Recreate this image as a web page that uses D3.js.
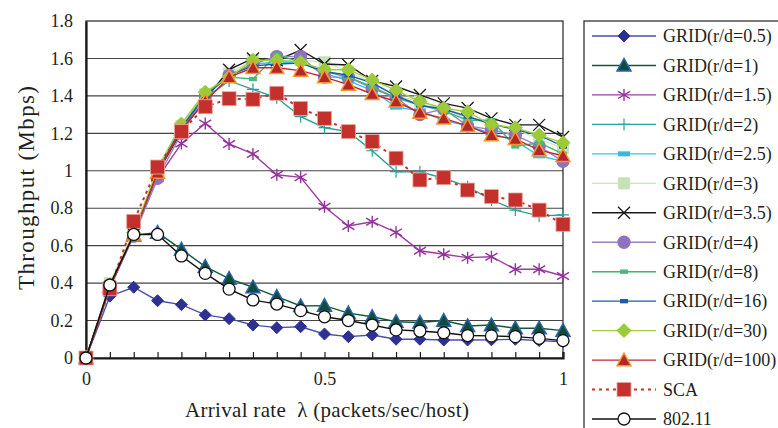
<!DOCTYPE html>
<html>
<head>
<meta charset="utf-8">
<script src="https://cdn.jsdelivr.net/npm/d3@7"></script>
<style>
  body { margin: 0; background: #fff; }
  text { font-family: "Liberation Serif", "Times New Roman", serif; fill: #231f20; }
</style>
</head>
<body>
<svg id="chart" width="778" height="428"></svg>
<script>
// x values (arrival rate)
const rates = d3.range(21).map(i => +(i * 0.05).toFixed(2))
const yTicks = [0, 0.2, 0.4, 0.6, 0.8, 1, 1.2, 1.4, 1.6, 1.8]
const xTickLabels = [0, 0.5, 1]

const grid05 = [0, 0.33, 0.378, 0.306, 0.285, 0.23, 0.21, 0.176, 0.162, 0.167, 0.128, 0.114, 0.123, 0.1, 0.1, 0.096, 0.096, 0.097, 0.1, 0.093, 0.087]
const grid1 = [0, 0.38, 0.655, 0.67, 0.58, 0.488, 0.424, 0.378, 0.328, 0.278, 0.28, 0.24, 0.22, 0.194, 0.19, 0.2, 0.171, 0.176, 0.159, 0.159, 0.146]
const grid15 = [0, 0.37, 0.66, 0.96, 1.146, 1.253, 1.143, 1.09, 0.979, 0.965, 0.808, 0.705, 0.728, 0.671, 0.573, 0.554, 0.536, 0.541, 0.474, 0.474, 0.438]
const grid2 = [0, 0.38, 0.66, 0.99, 1.22, 1.39, 1.48, 1.435, 1.39, 1.289, 1.23, 1.209, 1.107, 0.995, 0.995, 0.96, 0.915, 0.844, 0.79, 0.759, 0.764]
const grid25 = [0, 0.39, 0.67, 1.0, 1.23, 1.40, 1.51, 1.57, 1.58, 1.58, 1.52, 1.48, 1.43, 1.34, 1.32, 1.27, 1.24, 1.20, 1.16, 1.08, 1.05]
const grid3 = [0, 0.40, 0.68, 1.0, 1.24, 1.41, 1.52, 1.59, 1.59, 1.59, 1.58, 1.53, 1.47, 1.40, 1.37, 1.33, 1.28, 1.25, 1.22, 1.17, 1.12]
const grid35 = [0, 0.38, 0.66, 0.99, 1.21, 1.38, 1.54, 1.60, 1.59, 1.645, 1.57, 1.565, 1.48, 1.45, 1.405, 1.36, 1.335, 1.28, 1.245, 1.245, 1.18]
const grid4 = [0, 0.38, 0.65, 0.96, 1.20, 1.40, 1.51, 1.57, 1.61, 1.61, 1.50, 1.50, 1.44, 1.39, 1.30, 1.33, 1.24, 1.22, 1.19, 1.13, 1.05]
const grid8 = [0, 0.38, 0.66, 0.99, 1.23, 1.41, 1.50, 1.49, 1.62, 1.58, 1.53, 1.50, 1.45, 1.39, 1.35, 1.32, 1.27, 1.27, 1.13, 1.15, 1.09]
const grid16 = [0, 0.38, 0.66, 1.0, 1.23, 1.40, 1.51, 1.56, 1.57, 1.575, 1.53, 1.51, 1.47, 1.40, 1.35, 1.33, 1.29, 1.25, 1.22, 1.19, 1.13]
const grid30 = [0, 0.39, 0.67, 1.01, 1.25, 1.42, 1.50, 1.59, 1.59, 1.58, 1.54, 1.54, 1.485, 1.43, 1.37, 1.335, 1.315, 1.245, 1.23, 1.19, 1.15]
const grid100 = [0, 0.38, 0.66, 0.99, 1.22, 1.37, 1.50, 1.55, 1.55, 1.535, 1.50, 1.46, 1.41, 1.37, 1.31, 1.28, 1.24, 1.19, 1.17, 1.11, 1.08]
const sca = [0, 0.37, 0.73, 1.02, 1.209, 1.342, 1.385, 1.382, 1.414, 1.333, 1.28, 1.209, 1.156, 1.067, 0.951, 0.963, 0.897, 0.862, 0.844, 0.79, 0.714]
const wifi = [0, 0.39, 0.66, 0.66, 0.545, 0.452, 0.368, 0.31, 0.288, 0.253, 0.22, 0.2, 0.176, 0.15, 0.144, 0.135, 0.12, 0.118, 0.114, 0.105, 0.093]

const series = [
	{ name: 'GRID(r/d=0.5)', values: grid05, line: '#4a4ea6', marker: 'diamond', fill: '#2e3192', stroke: '#2e3192', size: 6 },
	{ name: 'GRID(r/d=1)', values: grid1, line: '#0d5a3a', marker: 'triangle', fill: '#0f4d3a', stroke: '#2b64a8', size: 7 },
	{ name: 'GRID(r/d=1.5)', values: grid15, line: '#9b3ba3', marker: 'asterisk', fill: 'none', stroke: '#93309b', size: 6 },
	{ name: 'GRID(r/d=2)', values: grid2, line: '#2ba09b', marker: 'plus', fill: 'none', stroke: '#2ba09b', size: 6 },
	{ name: 'GRID(r/d=2.5)', values: grid25, line: '#36c3ea', marker: 'wide', fill: '#3ab8e0', stroke: 'none', size: 6 },
	{ name: 'GRID(r/d=3)', values: grid3, line: '#cfe6c4', marker: 'square', fill: '#c8e2b8', stroke: 'none', size: 6 },
	{ name: 'GRID(r/d=3.5)', values: grid35, line: '#1a1a1a', marker: 'x', fill: 'none', stroke: '#1a1a1a', size: 6 },
	{ name: 'GRID(r/d=4)', values: grid4, line: '#9a80c6', marker: 'circle', fill: '#8e72bf', stroke: '#8e72bf', size: 6 },
	{ name: 'GRID(r/d=8)', values: grid8, line: '#3fb574', marker: 'small', fill: '#4cb87c', stroke: 'none', size: 4 },
	{ name: 'GRID(r/d=16)', values: grid16, line: '#1f5ca8', marker: 'small', fill: '#1f5ca8', stroke: 'none', size: 4 },
	{ name: 'GRID(r/d=30)', values: grid30, line: '#a3cd3e', marker: 'diamond', fill: '#9ccb3a', stroke: '#9ccb3a', size: 7 },
	{ name: 'GRID(r/d=100)', values: grid100, line: '#c4262e', marker: 'triangle', fill: '#b3262a', stroke: '#f5962e', size: 7 },
	{ name: 'SCA', values: sca, line: '#c0332c', dash: '3,4', marker: 'square', fill: '#c4312c', stroke: '#e8a6a0', size: 7 },
	{ name: '802.11', values: wifi, line: '#111', marker: 'circle', fill: '#fff', stroke: '#111', size: 6 }
]

const svg = d3.select('#chart')

const x = d3.scaleLinear().domain([0, 1]).range([86, 563])
const y = d3.scaleLinear().domain([0, 1.8]).range([358, 21])

// gridlines
svg.append('g')
	.selectAll('line')
	.data(yTicks.filter(d => d > 0 && d < 1.8))
	.join('line')
	.attr('x1', x(0)).attr('x2', x(1))
	.attr('y1', d => y(d)).attr('y2', d => y(d))
	.attr('stroke', '#444').attr('stroke-width', 1.1)

// frame
svg.append('rect')
	.attr('x', x(0)).attr('y', y(1.8))
	.attr('width', x(1) - x(0)).attr('height', y(0) - y(1.8))
	.attr('fill', 'none').attr('stroke', '#333').attr('stroke-width', 1.3)

// y axis
const yAxis = svg.append('g')
	.attr('transform', 'translate(' + x(0) + ',0)')
	.call(d3.axisLeft(y).tickValues(yTicks).tickSize(0).tickPadding(13).tickFormat(d => d3.format('')(+d.toFixed(1))))
yAxis.select('.domain').attr('stroke', '#1a1a1a').attr('stroke-width', 2.2)
yAxis.selectAll('text').attr('font-size', 18).attr('font-family', '"Liberation Serif", serif').attr('fill', '#231f20')

// x axis with minor ticks
const xAxis = svg.append('g')
	.attr('transform', 'translate(0,' + y(0) + ')')
	.call(d3.axisBottom(x).tickValues(rates).tickSize(-6).tickPadding(14).tickFormat(d => xTickLabels.includes(d) ? d : ''))
xAxis.select('.domain').attr('stroke', '#1a1a1a').attr('stroke-width', 2.2)
xAxis.selectAll('line').attr('stroke', '#1a1a1a').attr('stroke-width', 1.2)
xAxis.selectAll('text').attr('font-size', 18).attr('font-family', '"Liberation Serif", serif').attr('fill', '#231f20')

// titles
svg.append('text')
	.attr('x', 185).attr('y', 417)
	.attr('font-size', 21)
	.attr('textLength', 284)
	.attr('lengthAdjust', 'spacing')
	.text('Arrival rate \u00a0λ (packets/sec/host)')

svg.append('text')
	.attr('transform', 'translate(26,290) rotate(-90)')
	.attr('dy', '0.35em')
	.attr('font-size', 23)
	.attr('textLength', 204)
	.attr('lengthAdjust', 'spacing')
	.text('Throughput (Mbps)')

function drawMarker(g, s) {
	const r = s.size
	if (s.marker === 'circle') {
		g.append('circle').attr('r', r).attr('fill', s.fill).attr('stroke', s.stroke).attr('stroke-width', 1.3)
	} else if (s.marker === 'diamond') {
		g.append('path').attr('d', `M0,${-r}L${r},0L0,${r}L${-r},0Z`).attr('fill', s.fill).attr('stroke', s.stroke)
	} else if (s.marker === 'triangle') {
		g.append('path').attr('d', `M0,${-r}L${r},${r * 0.8}L${-r},${r * 0.8}Z`).attr('fill', s.fill).attr('stroke', s.stroke).attr('stroke-width', 1.5)
	} else if (s.marker === 'square') {
		g.append('rect').attr('x', -r).attr('y', -r).attr('width', 2 * r).attr('height', 2 * r).attr('fill', s.fill).attr('stroke', s.stroke).attr('stroke-width', 0.8)
	} else if (s.marker === 'wide') {
		g.append('rect').attr('x', -r).attr('y', -2.5).attr('width', 2 * r).attr('height', 5).attr('fill', s.fill)
	} else if (s.marker === 'small') {
		g.append('rect').attr('x', -r).attr('y', -2.2).attr('width', 2 * r).attr('height', 4.4).attr('fill', s.fill)
	} else if (s.marker === 'x') {
		g.append('path').attr('d', `M${-r},${-r}L${r},${r}M${-r},${r}L${r},${-r}`).attr('stroke', s.stroke).attr('stroke-width', 1.3)
	} else if (s.marker === 'plus') {
		g.append('path').attr('d', `M0,${-r}L0,${r}M${-r},0L${r},0`).attr('stroke', s.stroke).attr('stroke-width', 1.2)
	} else if (s.marker === 'asterisk') {
		g.append('path').attr('d', `M0,${-r}L0,${r}M${-r},${-r * 0.6}L${r},${r * 0.6}M${-r},${r * 0.6}L${r},${-r * 0.6}`).attr('stroke', s.stroke).attr('stroke-width', 1.4)
	}
}

const line = d3.line().x((d, i) => x(rates[i])).y(d => y(d))

series.forEach(s => {
	svg.append('path')
		.datum(s.values)
		.attr('d', line)
		.attr('fill', 'none')
		.attr('stroke', s.line)
		.attr('stroke-width', s.dash ? 2 : 1.4)
		.attr('stroke-dasharray', s.dash || null)

	svg.append('g')
		.selectAll('g')
		.data(s.values)
		.join('g')
		.attr('transform', (d, i) => 'translate(' + x(rates[i]) + ',' + y(d) + ')')
		.each(function () { drawMarker(d3.select(this), s) })
})

// legend
const legend = svg.append('g')
legend.append('rect')
	.attr('x', 584).attr('y', 21).attr('width', 220).attr('height', 430)
	.attr('fill', '#fff').attr('stroke', '#333').attr('stroke-width', 1.3)

const ly = d3.scalePoint().domain(series.map(s => s.name)).range([36, 419])

series.forEach(s => {
	const g = legend.append('g').attr('transform', 'translate(0,' + ly(s.name) + ')')
	g.append('line')
		.attr('x1', 592).attr('x2', 656)
		.attr('stroke', s.line)
		.attr('stroke-width', s.dash ? 2 : 1.4)
		.attr('stroke-dasharray', s.dash || null)
	drawMarker(g.append('g').attr('transform', 'translate(624,0)'), s)
	g.append('text')
		.attr('x', 663).attr('dy', '0.35em')
		.attr('font-size', 18)
		.text(s.name)
})
</script>
</body>
</html>
